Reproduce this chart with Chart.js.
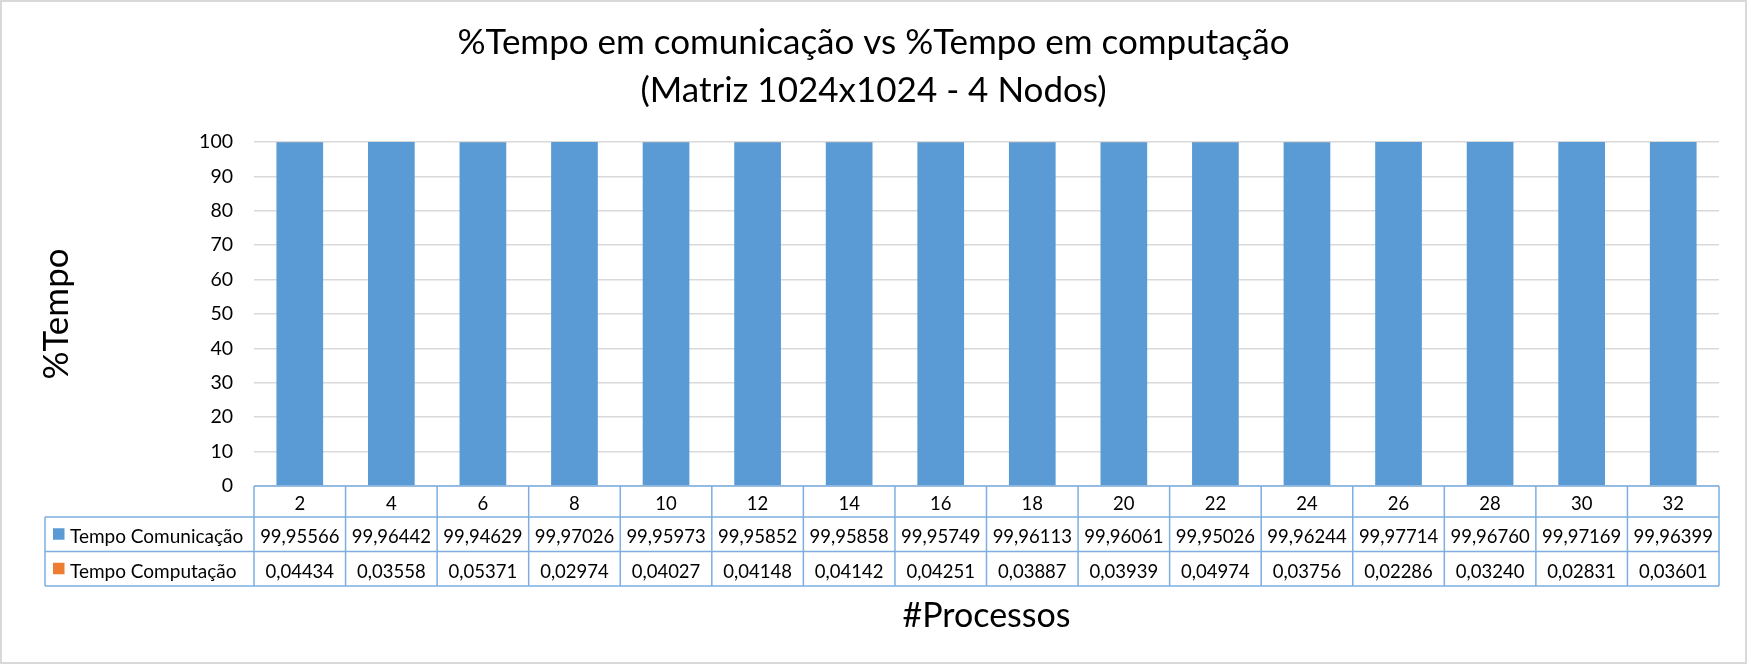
<!DOCTYPE html>
<html>
<head>
<meta charset="utf-8">
<script src="https://cdn.jsdelivr.net/npm/chart.js@4.4.0/dist/chart.umd.min.js"></script>
<style>
  html, body { margin: 0; padding: 0; background: #ffffff; }
  #wrap { width: 1747px; height: 665px; position: relative; }
</style>
</head>
<body>
<div id="wrap"><canvas id="c" width="1747" height="665"></canvas></div>
<script>
const categories = ['2','4','6','8','10','12','14','16','18','20','22','24','26','28','30','32'];
const seriesNames = ['Tempo Comunicação', 'Tempo Computação'];
const tempoComunicacao = [99.95566, 99.96442, 99.94629, 99.97026, 99.95973, 99.95852, 99.95858, 99.95749, 99.96113, 99.96061, 99.95026, 99.96244, 99.97714, 99.96760, 99.97169, 99.96399];
const tempoComputacao = [0.04434, 0.03558, 0.05371, 0.02974, 0.04027, 0.04148, 0.04142, 0.04251, 0.03887, 0.03939, 0.04974, 0.03756, 0.02286, 0.03240, 0.02831, 0.03601];
const yTicks = [0, 10, 20, 30, 40, 50, 60, 70, 80, 90, 100];
const titleLines = ['%Tempo em comunicação vs %Tempo em computação', '(Matriz 1024x1024 - 4 Nodos)'];
const yTitle = '%Tempo';
const xTitle = '#Processos';

const FONT = 'Lato, "Open Sans", sans-serif';
const BLUE = '#5b9bd5';
const ORANGE = '#ed7d31';
const TABLE_LINE = '#7eaee0';

function fmt(v) {
  return v.toFixed(5).replace('.', ',');
}

const decorPlugin = {
  id: 'decor',
  afterDraw(chart) {
    const ctx = chart.ctx;
    const area = chart.chartArea;
    const x = chart.scales.x;
    ctx.save();
    // outer frame
    ctx.strokeStyle = '#d9d9d9';
    ctx.lineWidth = 2;
    ctx.strokeRect(1, 1, 1745, 662);

    // title
    ctx.fillStyle = '#000';
    ctx.textAlign = 'center';
    ctx.textBaseline = 'alphabetic';
    ctx.font = '35px ' + FONT;
    ctx.fillText(titleLines[0], 873.5, 54);
    ctx.fillText(titleLines[1], 873.5, 102);

    // y title
    ctx.save();
    ctx.translate(57, (area.top + area.bottom) / 2);
    ctx.rotate(-Math.PI / 2);
    ctx.textBaseline = 'middle';
    ctx.font = '35px ' + FONT;
    ctx.fillText(yTitle, 0, 0);
    ctx.restore();

    // data table
    const n = categories.length;
    const colW = (area.right - area.left) / n;
    const top = area.bottom;
    const hdrB = top + 31;
    const r1B = hdrB + 34.5;
    const r2B = r1B + 34.5;
    const legL = 45;

    ctx.strokeStyle = TABLE_LINE;
    ctx.lineWidth = 1.5;
    ctx.beginPath();
    ctx.moveTo(area.left, top); ctx.lineTo(area.right, top);
    ctx.moveTo(legL, hdrB); ctx.lineTo(area.right, hdrB);
    ctx.moveTo(legL, r1B); ctx.lineTo(area.right, r1B);
    ctx.moveTo(legL, r2B); ctx.lineTo(area.right, r2B);
    ctx.moveTo(legL, hdrB); ctx.lineTo(legL, r2B);
    for (let i = 0; i <= n; i++) {
      const xx = area.left + i * colW;
      ctx.moveTo(xx, top); ctx.lineTo(xx, r2B);
    }
    ctx.stroke();

    ctx.fillStyle = '#000';
    ctx.font = '18.5px ' + FONT;
    ctx.textAlign = 'center';
    ctx.textBaseline = 'alphabetic';
    for (let i = 0; i < n; i++) {
      const cx = x.getPixelForValue(i);
      ctx.fillText(categories[i], cx, top + 23.5);
      ctx.fillText(fmt(tempoComunicacao[i]), cx, hdrB + 26);
      ctx.fillText(fmt(tempoComputacao[i]), cx, r1B + 26);
    }
    // legend keys
    const keys = [[BLUE, seriesNames[0], hdrB, (hdrB + r1B) / 2], [ORANGE, seriesNames[1], r1B, (r1B + r2B) / 2]];
    ctx.textAlign = 'left';
    ctx.font = '19px ' + FONT;
    keys.forEach(([col, name, rowTop, cy]) => {
      ctx.fillStyle = col;
      ctx.fillRect(53, cy - 6, 11.5, 11.5);
      ctx.fillStyle = '#000';
      ctx.fillText(name, 70, rowTop + 26);
    });

    // x title
    ctx.textAlign = 'center';
    ctx.font = '34px ' + FONT;
    ctx.fillText(xTitle, (area.left + area.right) / 2, 627);
    ctx.restore();
  }
};

new Chart(document.getElementById('c'), {
  type: 'bar',
  data: {
    labels: categories,
    datasets: [
      { label: seriesNames[0], data: tempoComunicacao, backgroundColor: BLUE, borderWidth: 0, barPercentage: 0.51, categoryPercentage: 1 },
      { label: seriesNames[1], data: tempoComputacao, backgroundColor: ORANGE, borderWidth: 0, barPercentage: 0.51, categoryPercentage: 1 }
    ]
  },
  options: {
    responsive: false,
    animation: false,
    devicePixelRatio: 1,
    layout: { padding: { left: 0, right: 28, top: 142, bottom: 179 } },
    plugins: {
      legend: { display: false },
      title: { display: false },
      tooltip: { enabled: false }
    },
    scales: {
      x: {
        stacked: true,
        display: false,
        grid: { display: false }
      },
      y: {
        stacked: true,
        min: 0,
        max: 100,
        afterFit(scale) { scale.width = 254; },
        afterBuildTicks(scale) { scale.ticks = yTicks.map(v => ({ value: v })); },
        border: { display: false },
        grid: { color: '#d9d9d9', lineWidth: 1.5, drawTicks: false },
        ticks: {
          padding: 21,
          color: '#000',
          font: { family: FONT, size: 19.5 },
          callback: (v) => String(v)
        }
      }
    }
  },
  plugins: [decorPlugin]
});
</script>
</body>
</html>
